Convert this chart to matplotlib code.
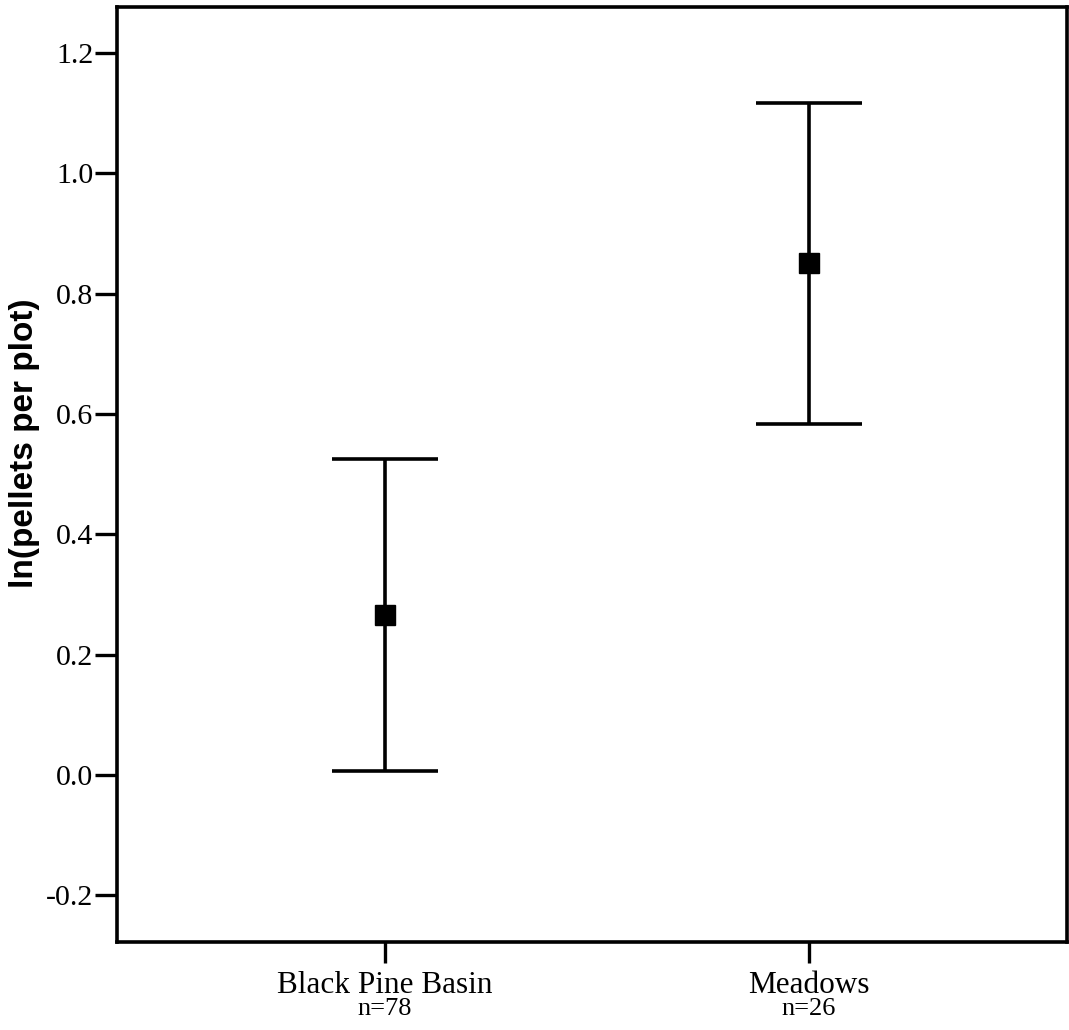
import numpy as np
import matplotlib.pyplot as plt
import matplotlib.transforms as mtransforms

# group means and 95% CI bounds of ln(pellets per plot)
groups = ["Black Pine Basin", "Meadows"]
n_labels = ["n=78", "n=26"]
means = [0.266, 0.850]
upper = [0.525, 1.116]
lower = [0.007, 0.583]

yticks = [-0.2, 0.0, 0.2, 0.4, 0.6, 0.8, 1.0, 1.2]

fig = plt.figure(figsize=(10.69, 10.30), dpi=100)
ax = fig.add_axes([0.1094, 0.0854, 0.8886, 0.9078])

x = np.arange(1, len(groups) + 1)
m = np.array(means)
err = [m - np.array(lower), np.array(upper) - m]

ax.errorbar(x, m, yerr=err, fmt='s', color='black', markersize=14.5,
            elinewidth=2.6, capsize=38.5, capthick=2.6, ecolor='black')

ax.set_xlim(0.368, 2.608)
ax.set_ylim(-0.2775, 1.276)

ax.set_yticks(yticks)
ax.set_yticklabels([f"{v:.1f}" for v in yticks], family='Liberation Serif', fontsize=21.5)
ax.set_xticks(x)
ax.set_xticklabels(groups, family='Liberation Serif', fontsize=22.5)

ax.tick_params(axis='y', direction='out', length=16, width=2.4, pad=1)
ax.tick_params(axis='x', direction='out', length=15, width=2.4, pad=6)

for side in ['left', 'bottom', 'top', 'right']:
    ax.spines[side].set_linewidth(2.6)

# sample sizes under the group names
trans = mtransforms.blended_transform_factory(ax.transData, ax.transAxes)
for xi, lab in zip(x, n_labels):
    ax.text(xi, -0.0785, lab, transform=trans, ha='center', va='baseline',
            family='Liberation Serif', fontsize=19)

ax.set_ylabel("ln(pellets per plot)", family='Liberation Sans', fontweight='bold',
              fontsize=24)
ax.yaxis.set_label_coords(-0.081, 0.533)

fig.savefig("out.png", dpi=100)
